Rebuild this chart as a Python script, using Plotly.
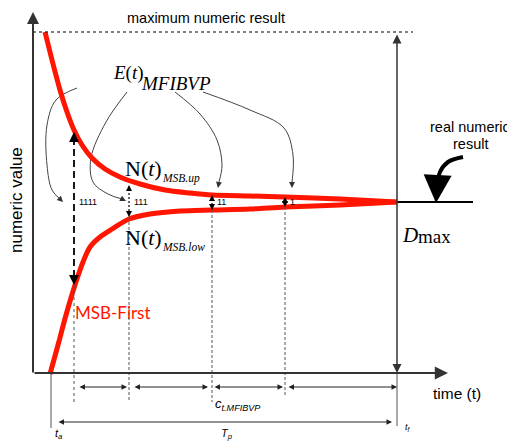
import plotly.graph_objects as go

# ---- data (diagram units: x = time, y = numeric value measured downward) ----
upper_t = [45, 52, 60, 67, 74, 82, 92, 105, 120, 140, 165, 190, 212, 250, 285, 340, 397]
upper_v = [32, 60, 90, 112, 130, 145, 158, 169, 177, 184, 190, 193, 195, 196, 197, 199, 202]
lower_t = [50, 58, 66, 75, 83, 90, 100, 112, 129, 150, 180, 212, 250, 285, 340, 397]
lower_v = [374, 345, 315, 285, 262, 247, 237, 229, 219, 214, 211, 210, 209, 207, 205, 202]

marker_t = [74, 129, 212, 285]
marker_up = [132, 185, 195, 197]
marker_low = [285, 217, 210, 207]
marker_labels = ["1111", "111", "11", "1"]
marker_bottom = [402, 402, 402, 395]

seg_start = [78, 133, 213, 287]
seg_end = [127, 208, 283, 397]

callouts = [
    [(77, 88), (56, 100), (47, 125), (47, 165), (52, 190), (60, 199)],
    [(127, 92), (106, 122), (91, 158), (93, 182), (108, 194), (122, 199)],
    [(175, 92), (200, 114), (217, 140), (222, 165), (219, 182)],
    [(203, 92), (250, 110), (284, 128), (293, 155), (292, 182)],
]
callout_heads = [(63, 202), (126, 201), (218, 188), (292, 188)]

SERIF = "Liberation Serif, DejaVu Serif, serif"
SANS = "Liberation Sans, Arial, sans-serif"
GRAY = "#333333"
RED = "#ff1500"
PAGE_OFFSET = 8  # default body margin of the written page

fig = go.Figure()

for pts in callouts:
    fig.add_trace(go.Scatter(x=[p[0] for p in pts], y=[p[1] for p in pts], mode="lines",
                             line=dict(color="#444444", width=1, shape="spline"),
                             hoverinfo="skip", showlegend=False))

fig.add_trace(go.Scatter(x=[463, 448, 440, 437], y=[157, 162, 172, 188], mode="lines",
                         line=dict(color="black", width=4, shape="spline"),
                         hoverinfo="skip", showlegend=False))

fig.add_trace(go.Scatter(x=upper_t, y=upper_v, mode="lines",
                         line=dict(color=RED, width=5, shape="spline", smoothing=0.8),
                         hoverinfo="skip", showlegend=False))
fig.add_trace(go.Scatter(x=lower_t, y=lower_v, mode="lines",
                         line=dict(color=RED, width=5, shape="spline", smoothing=0.8),
                         hoverinfo="skip", showlegend=False))

shapes = []
shapes.append(dict(type="line", x0=33, x1=413, y0=32, y1=32,
                   line=dict(color="black", width=1.2, dash="3px,3px")))
shapes.append(dict(type="line", x0=397, x1=473, y0=202, y1=202,
                   line=dict(color="black", width=2)))
for i, t in enumerate(marker_t):
    shapes.append(dict(type="line", x0=t, x1=t, y0=marker_low[i], y1=marker_bottom[i],
                       line=dict(color="#555555", width=1, dash="3px,3px" if i == 0 else "3px,2px")))
    if i == 0:
        shapes.append(dict(type="line", x0=t, x1=t, y0=marker_up[i] + 6, y1=marker_low[i] - 6,
                           line=dict(color="black", width=1.8, dash="7px,4px")))
    else:
        shapes.append(dict(type="line", x0=t, x1=t, y0=marker_up[i] + 4, y1=marker_low[i] - 4,
                           line=dict(color="black", width=1.2, dash="2px,2px")))
shapes.append(dict(type="line", x0=51, x1=51, y0=374, y1=428, line=dict(color="#555555", width=1)))
shapes.append(dict(type="line", x0=397, x1=397, y0=374, y1=426, line=dict(color="#555555", width=1)))

ann = []
def arrow(hx, hy, tx, ty, width=1, head=2, size=1, color="black", side="end", standoff=0):
    ann.append(dict(x=hx, y=hy, ax=tx, ay=ty, xref="x", yref="y", axref="x", ayref="y",
                    text="", showarrow=True, arrowhead=head, arrowsize=size, arrowwidth=width,
                    arrowcolor=color, arrowside=side, standoff=standoff, startstandoff=0))

arrow(33, 12, 33, 374, width=2, color=GRAY, head=2, size=1.2)
arrow(448, 373, 33, 373, width=2.2, color=GRAY, head=2, size=1.2)
arrow(397, 373, 397, 33, width=1.5, color=GRAY, head=2, size=1.2, side="end+start")

arrow(marker_t[0], marker_up[0], marker_t[0], marker_up[0] + 8, width=1.8, head=2, size=1.1)
arrow(marker_t[0], marker_low[0], marker_t[0], marker_low[0] - 8, width=1.8, head=2, size=1.1)
for i in range(1, 4):
    mid = (marker_up[i] + marker_low[i]) / 2
    arrow(marker_t[i], marker_up[i], marker_t[i], min(mid, marker_up[i] + 6), width=1.2, head=2, size=1.0)
    arrow(marker_t[i], marker_low[i], marker_t[i], max(mid, marker_low[i] - 6), width=1.2, head=2, size=1.0)

for pts, h in zip(callouts, callout_heads):
    arrow(h[0], h[1], pts[-1][0], pts[-1][1], width=1, head=2, size=1.2, color="#333333")
arrow(436, 203, 437, 186, width=4, head=2, size=1.4, color="black")

for s, e in zip(seg_start, seg_end):
    arrow(e, 387, s, 387, width=1, head=2, size=1.1, color="#222222", side="end+start")
arrow(392, 422, 57, 422, width=1, head=2, size=1.1, color="#222222", side="end+start")

def text(x, y, s, size, family=SANS, color="black", xanchor="left", angle=0):
    ann.append(dict(x=x, y=y, xref="x", yref="y", text=s, showarrow=False, xanchor=xanchor,
                    yanchor="middle", textangle=angle,
                    font=dict(size=size, family=family, color=color)))

text(206, 18, "maximum numeric result", 14.5, xanchor="center")
text(16, 200, "numeric value", 17, xanchor="center", angle=-90)
text(470, 127, "real numeric", 14.5, xanchor="center")
text(470, 144, "result", 14.5, xanchor="center")
text(457, 393, "time (t)", 15.5, xanchor="center")
text(111, 73, "<i>E</i>(<i>t</i>)", 19, family=SERIF)
text(139, 83, "<i>MFIBVP</i>", 19, family=SERIF)
text(123, 168, "N(<i>t</i>)", 22, family=SERIF)
text(160, 178, "<i>MSB.up</i>", 11.5, family=SERIF)
text(123, 237, "N(<i>t</i>)", 22, family=SERIF)
text(160, 247, "<i>MSB.low</i>", 11.5, family=SERIF)
text(113, 312, "MSB-First", 17, family="Lato, Open Sans, sans-serif", color=RED, xanchor="center")
text(400, 235, "<i>D</i>", 21, family=SERIF)
text(416, 236, "max", 19, family=SERIF)
for t, lab in zip(marker_t, marker_labels):
    text(t + 3, 202, lab, 9)
text(213, 404, "<i>c</i><sub><i>t.MFIBVP</i></sub>", 13, family=SANS)
text(53, 434, "<i>t</i><sub><i>a</i></sub>", 11, family=SANS)
text(219, 434, "<i>T</i><sub><i>p</i></sub>", 11, family=SANS)
text(403, 427, "<i>t</i><sub><i>f</i></sub>", 9, family=SANS)

fig.update_layout(
    width=515, height=441, margin=dict(l=0, r=0, t=0, b=0),
    paper_bgcolor="white", plot_bgcolor="white",
    xaxis=dict(range=[PAGE_OFFSET, 515 + PAGE_OFFSET], visible=False, fixedrange=True),
    yaxis=dict(range=[441 + PAGE_OFFSET, PAGE_OFFSET], visible=False, fixedrange=True),
    shapes=shapes, annotations=ann, showlegend=False,
)
fig.write_html("out.html")
